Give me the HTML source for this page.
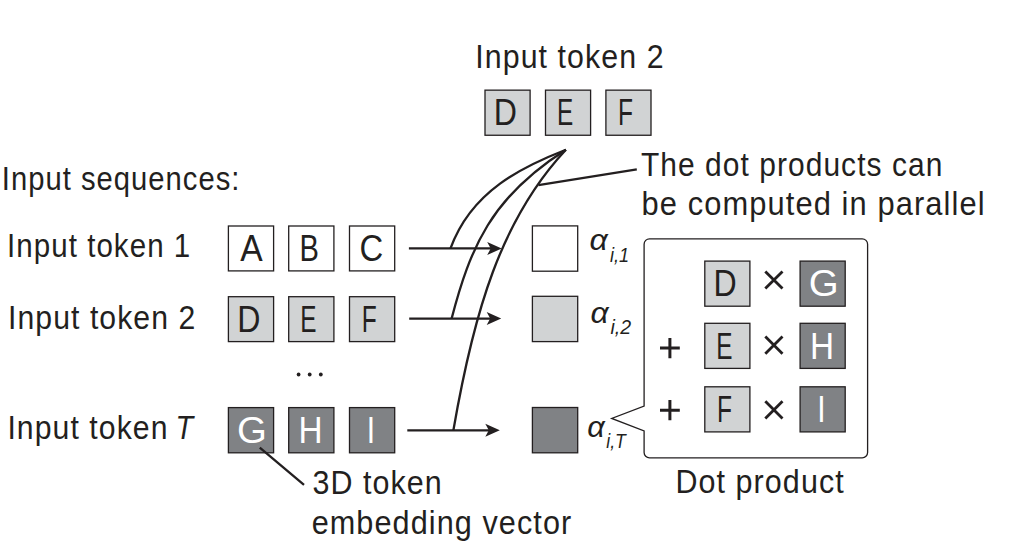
<!DOCTYPE html>
<html><head><meta charset="utf-8"><style>
html,body{margin:0;padding:0;background:#fff;width:1022px;height:545px;overflow:hidden}
svg{display:block}
text{font-family:"Liberation Sans",sans-serif}
</style></head><body>
<svg width="1022" height="545" viewBox="0 0 1022 545">
<rect width="1022" height="545" fill="#fff"/>
<text x="475.30" y="68.10" font-size="34" font-style="normal" fill="#231f20" letter-spacing="1.2" textLength="189.29" lengthAdjust="spacingAndGlyphs">Input token 2</text>
<rect x="485.00" y="90.15" width="45.10" height="45.10" fill="#d1d3d4" stroke="#231f20" stroke-width="1.3"/>
<text x="493.82" y="125.38" font-size="36" font-style="normal" fill="#231f20" textLength="23.17" lengthAdjust="spacingAndGlyphs">D</text>
<rect x="545.50" y="90.15" width="45.10" height="45.10" fill="#d1d3d4" stroke="#231f20" stroke-width="1.3"/>
<text x="556.95" y="125.38" font-size="36" font-style="normal" fill="#231f20" textLength="16.24" lengthAdjust="spacingAndGlyphs">E</text>
<rect x="605.90" y="90.15" width="45.10" height="45.10" fill="#d1d3d4" stroke="#231f20" stroke-width="1.3"/>
<text x="618.04" y="125.38" font-size="36" font-style="normal" fill="#231f20" textLength="15.00" lengthAdjust="spacingAndGlyphs">F</text>
<text x="1.81" y="190.10" font-size="34" font-style="normal" fill="#231f20" letter-spacing="1.2" textLength="238.69" lengthAdjust="spacingAndGlyphs">Input sequences:</text>
<text x="7.08" y="256.70" font-size="34" font-style="normal" fill="#231f20" letter-spacing="1.2" textLength="184.21" lengthAdjust="spacingAndGlyphs">Input token 1</text>
<text x="8.02" y="328.70" font-size="34" font-style="normal" fill="#231f20" letter-spacing="1.2" textLength="188.27" lengthAdjust="spacingAndGlyphs">Input token 2</text>
<text x="7.41" y="438.90" font-size="34" font-style="normal" fill="#231f20" letter-spacing="1.2" textLength="161.11" lengthAdjust="spacingAndGlyphs">Input token</text>
<text x="175.41" y="438.90" font-size="34" font-style="italic" fill="#231f20" textLength="17.59" lengthAdjust="spacingAndGlyphs">T</text>
<rect x="228.40" y="226.00" width="45.20" height="44.90" fill="#fff" stroke="#231f20" stroke-width="1.3"/>
<text x="240.28" y="260.98" font-size="36" font-style="normal" fill="#231f20" textLength="22.43" lengthAdjust="spacingAndGlyphs">A</text>
<rect x="288.70" y="226.00" width="45.20" height="44.90" fill="#fff" stroke="#231f20" stroke-width="1.3"/>
<text x="299.46" y="260.98" font-size="36" font-style="normal" fill="#231f20" textLength="19.42" lengthAdjust="spacingAndGlyphs">B</text>
<rect x="349.50" y="226.00" width="45.20" height="44.90" fill="#fff" stroke="#231f20" stroke-width="1.3"/>
<text x="359.43" y="260.98" font-size="36" font-style="normal" fill="#231f20" textLength="23.72" lengthAdjust="spacingAndGlyphs">C</text>
<rect x="228.40" y="296.70" width="45.20" height="44.90" fill="#d1d3d4" stroke="#231f20" stroke-width="1.3"/>
<text x="237.27" y="331.68" font-size="36" font-style="normal" fill="#231f20" textLength="23.17" lengthAdjust="spacingAndGlyphs">D</text>
<rect x="288.70" y="296.70" width="45.20" height="44.90" fill="#d1d3d4" stroke="#231f20" stroke-width="1.3"/>
<text x="300.20" y="331.68" font-size="36" font-style="normal" fill="#231f20" textLength="16.24" lengthAdjust="spacingAndGlyphs">E</text>
<rect x="349.50" y="296.70" width="45.20" height="44.90" fill="#d1d3d4" stroke="#231f20" stroke-width="1.3"/>
<text x="361.69" y="331.68" font-size="36" font-style="normal" fill="#231f20" textLength="15.00" lengthAdjust="spacingAndGlyphs">F</text>
<rect x="228.40" y="407.60" width="45.20" height="45.20" fill="#808285" stroke="#231f20" stroke-width="1.3"/>
<text x="237.02" y="442.88" font-size="36" font-style="normal" fill="#fff" textLength="29.91" lengthAdjust="spacingAndGlyphs">G</text>
<rect x="288.70" y="407.60" width="45.20" height="45.20" fill="#808285" stroke="#231f20" stroke-width="1.3"/>
<text x="298.62" y="442.88" font-size="36" font-style="normal" fill="#fff" textLength="24.05" lengthAdjust="spacingAndGlyphs">H</text>
<rect x="349.50" y="407.60" width="45.20" height="45.20" fill="#808285" stroke="#231f20" stroke-width="1.3"/>
<text x="366.63" y="442.88" font-size="36" font-style="normal" fill="#fff" textLength="8.34" lengthAdjust="spacingAndGlyphs">I</text>
<circle cx="298.6" cy="374.5" r="1.9" fill="#231f20"/>
<circle cx="309.7" cy="374.5" r="1.9" fill="#231f20"/>
<circle cx="320.8" cy="374.5" r="1.9" fill="#231f20"/>
<line x1="408.9" y1="248.4" x2="493.7" y2="248.4" stroke="#231f20" stroke-width="2.3"/>
<path d="M501.7 248.4 L487.2 241.9 L490.7 248.4 L487.2 254.9 Z" fill="#231f20"/>
<line x1="409.2" y1="318.6" x2="493.2" y2="318.6" stroke="#231f20" stroke-width="2.3"/>
<path d="M501.2 318.6 L486.7 312.1 L490.2 318.6 L486.7 325.1 Z" fill="#231f20"/>
<line x1="407.3" y1="430.3" x2="491.8" y2="430.3" stroke="#231f20" stroke-width="2.3"/>
<path d="M499.8 430.3 L485.3 423.8 L488.8 430.3 L485.3 436.8 Z" fill="#231f20"/>
<path d="M 450.5 248.4 C 471.4 190.5 523.3 166.3 565.9 149.7" fill="none" stroke="#231f20" stroke-width="2.3"/>
<path d="M 451.6 318.6 C 470.1 248.0 491.0 197.2 565.9 149.7" fill="none" stroke="#231f20" stroke-width="2.3"/>
<path d="M 453.4 430.3 C 473.7 312.6 500.8 219.4 565.9 149.7" fill="none" stroke="#231f20" stroke-width="2.3"/>
<line x1="538.4" y1="185.1" x2="636.8" y2="169.4" stroke="#231f20" stroke-width="2.3"/>
<text x="640.93" y="175.80" font-size="34" font-style="normal" fill="#231f20" letter-spacing="1.2" textLength="302.47" lengthAdjust="spacingAndGlyphs">The dot products can</text>
<text x="641.61" y="215.30" font-size="34" font-style="normal" fill="#231f20" letter-spacing="1.2" textLength="344.04" lengthAdjust="spacingAndGlyphs">be computed in parallel</text>
<rect x="532.40" y="225.90" width="45.30" height="45.30" fill="#fff" stroke="#231f20" stroke-width="1.3"/>
<rect x="532.40" y="296.30" width="45.30" height="45.30" fill="#d1d3d4" stroke="#231f20" stroke-width="1.3"/>
<rect x="532.40" y="407.50" width="45.30" height="45.30" fill="#808285" stroke="#231f20" stroke-width="1.3"/>
<text x="589.51" y="250.10" font-size="30" font-style="italic" fill="#231f20" textLength="18.24" lengthAdjust="spacingAndGlyphs">α</text>
<text x="610.01" y="262.10" font-size="20" font-style="italic" fill="#231f20" textLength="19.12" lengthAdjust="spacingAndGlyphs">i,1</text>
<text x="590.61" y="322.80" font-size="30" font-style="italic" fill="#231f20" textLength="18.14" lengthAdjust="spacingAndGlyphs">α</text>
<text x="610.39" y="333.80" font-size="20" font-style="italic" fill="#231f20" textLength="20.60" lengthAdjust="spacingAndGlyphs">i,2</text>
<text x="587.15" y="437.10" font-size="30" font-style="italic" fill="#231f20" textLength="17.53" lengthAdjust="spacingAndGlyphs">α</text>
<text x="606.32" y="448.40" font-size="20" font-style="italic" fill="#231f20" textLength="19.54" lengthAdjust="spacingAndGlyphs">i,T</text>
<path d="M649.5 238.8 H862.2 A5.4 5.4 0 0 1 867.6 244.20000000000002 V452.40000000000003 A5.4 5.4 0 0 1 862.2 457.8 H649.5 A5.4 5.4 0 0 1 644.1 452.40000000000003 V430.9 L611.7 418.4 L644.1 406.1 V244.20000000000002 A5.4 5.4 0 0 1 649.5 238.8 Z" fill="#fff" stroke="#231f20" stroke-width="1.3"/>
<rect x="704.80" y="261.10" width="45.10" height="45.10" fill="#d1d3d4" stroke="#231f20" stroke-width="1.3"/>
<text x="713.62" y="296.33" font-size="36" font-style="normal" fill="#231f20" textLength="23.17" lengthAdjust="spacingAndGlyphs">D</text>
<rect x="800.10" y="261.10" width="45.10" height="45.10" fill="#808285" stroke="#231f20" stroke-width="1.3"/>
<text x="808.67" y="296.33" font-size="36" font-style="normal" fill="#fff" textLength="29.91" lengthAdjust="spacingAndGlyphs">G</text>
<rect x="704.80" y="323.30" width="45.10" height="45.10" fill="#d1d3d4" stroke="#231f20" stroke-width="1.3"/>
<text x="716.25" y="358.53" font-size="36" font-style="normal" fill="#231f20" textLength="16.24" lengthAdjust="spacingAndGlyphs">E</text>
<rect x="800.10" y="323.30" width="45.10" height="45.10" fill="#808285" stroke="#231f20" stroke-width="1.3"/>
<text x="809.97" y="358.53" font-size="36" font-style="normal" fill="#fff" textLength="24.05" lengthAdjust="spacingAndGlyphs">H</text>
<rect x="704.80" y="386.80" width="45.10" height="45.10" fill="#d1d3d4" stroke="#231f20" stroke-width="1.3"/>
<text x="716.94" y="422.03" font-size="36" font-style="normal" fill="#231f20" textLength="15.00" lengthAdjust="spacingAndGlyphs">F</text>
<rect x="800.10" y="386.80" width="45.10" height="45.10" fill="#808285" stroke="#231f20" stroke-width="1.3"/>
<text x="817.18" y="422.03" font-size="36" font-style="normal" fill="#fff" textLength="8.34" lengthAdjust="spacingAndGlyphs">I</text>
<path d="M765.3 271.4 L782.5 288.6 M782.5 271.4 L765.3 288.6" stroke="#231f20" stroke-width="2.8"/>
<path d="M765.3 336.5 L782.5 353.70000000000005 M782.5 336.5 L765.3 353.70000000000005" stroke="#231f20" stroke-width="2.8"/>
<path d="M765.3 401.29999999999995 L782.5 418.5 M782.5 401.29999999999995 L765.3 418.5" stroke="#231f20" stroke-width="2.8"/>
<path d="M660 348.1 H679.8 M669.9 338.0 V358.20000000000005" stroke="#231f20" stroke-width="3"/>
<path d="M660 410.2 H679.8 M669.9 400.09999999999997 V420.3" stroke="#231f20" stroke-width="3"/>
<text x="675.40" y="492.90" font-size="34" font-style="normal" fill="#231f20" letter-spacing="1.2" textLength="169.40" lengthAdjust="spacingAndGlyphs">Dot product</text>
<line x1="259.8" y1="447.7" x2="304" y2="484.9" stroke="#231f20" stroke-width="2.3"/>
<text x="312.44" y="493.80" font-size="34" font-style="normal" fill="#231f20" letter-spacing="1.2" textLength="130.41" lengthAdjust="spacingAndGlyphs">3D token</text>
<text x="311.70" y="533.50" font-size="34" font-style="normal" fill="#231f20" letter-spacing="1.2" textLength="260.59" lengthAdjust="spacingAndGlyphs">embedding vector</text>
</svg>
</body></html>
